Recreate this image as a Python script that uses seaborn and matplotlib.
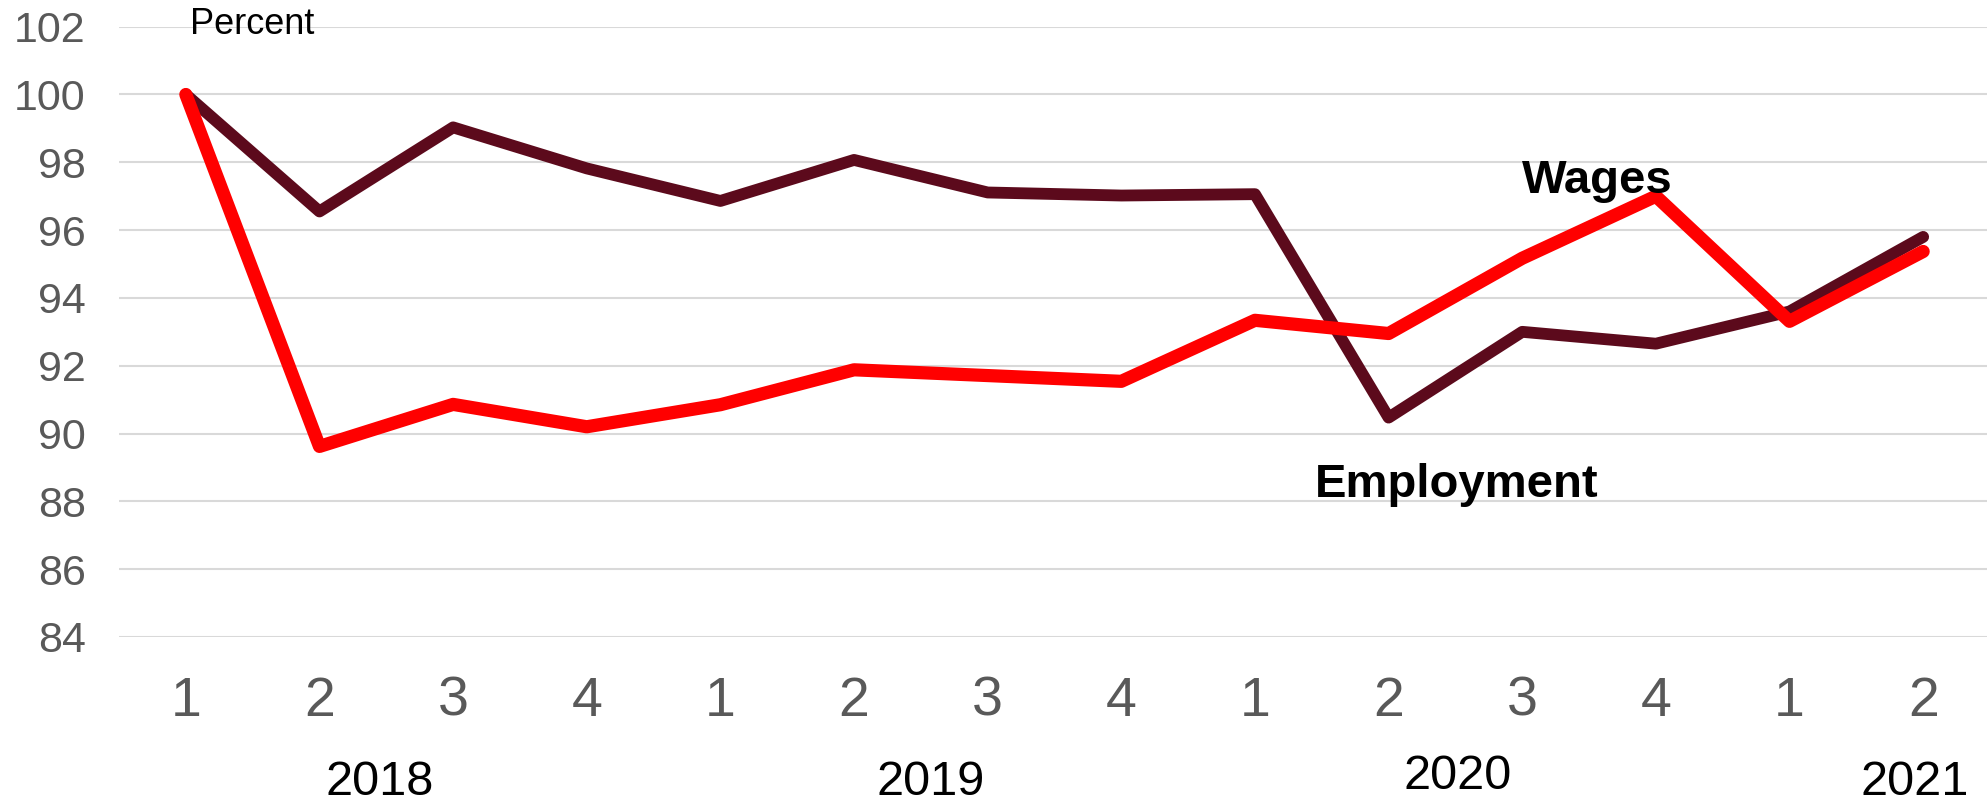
import numpy as np
import pandas as pd
import seaborn as sns
import matplotlib.pyplot as plt
from matplotlib.transforms import blended_transform_factory

# data (index, first quarter of 2018 = 100)
quarters = ['1', '2', '3', '4', '1', '2', '3', '4', '1', '2', '3', '4', '1', '2']
years = ['2018', '2019', '2020', '2021']
employment = [100.0, 96.55, 99.03, 97.82, 96.86, 98.07, 97.11, 97.02, 97.06,
              90.47, 93.0, 92.65, 93.6, 95.8]
wages = [100.0, 89.62, 90.86, 90.2, 90.85, 91.88, 91.71, 91.54, 93.34,
         92.95, 95.17, 97.0, 93.31, 95.37]

df = pd.DataFrame({
    'pos': np.arange(len(quarters)),
    'Employment': employment,
    'Wages': wages,
})

sns.set_style('white')
plt.rcParams['font.family'] = ['Liberation Sans', 'DejaVu Sans']

fig = plt.figure(figsize=(19.87, 8.06), dpi=100)
ax = fig.add_axes([0.0599, 0.2097, 0.9416, 0.7572])

sns.lineplot(data=df, x='pos', y='Employment', color='#5C0A1C', linewidth=8.5,
             sort=False, ax=ax, solid_capstyle='round', solid_joinstyle='round')
sns.lineplot(data=df, x='pos', y='Wages', color='#FF0000', linewidth=9.5,
             sort=False, ax=ax, solid_capstyle='round', solid_joinstyle='round')

ax.set_xlim(-0.5, 13.5)
ax.set_ylim(84, 102)
ax.set_yticks(range(84, 103, 2))
ax.set_xticks(df['pos'])
ax.set_xticklabels(quarters)
ax.grid(axis='y', color='#D9D9D9', linewidth=1.5)
ax.set_axisbelow(True)
for s in ax.spines.values():
    s.set_visible(False)
ax.tick_params(axis='y', length=0, pad=24, labelsize=31, labelcolor='#595959')
ax.tick_params(axis='x', length=0, pad=28, labelsize=40, labelcolor='#595959')
ax.set_xlabel('')
ax.set_ylabel('')

# year labels under the quarter numbers
year_x = [1.45, 5.57, 9.52, 12.94]
year_y = [0.014, 0.014, 0.021, 0.014]
trans = blended_transform_factory(ax.transData, fig.transFigure)
for yr, xp, yp in zip(years, year_x, year_y):
    ax.text(xp, yp, yr, transform=trans, ha='center', va='baseline',
            fontsize=35, color='black')

ax.text(0.03, 101.78, 'Percent', fontsize=26, color='black', ha='left', va='baseline')
ax.text(9.51, 88.14, 'Employment', fontsize=34, fontweight='bold', color='black',
        ha='center', va='baseline')
ax.text(10.56, 97.1, 'Wages', fontsize=34, fontweight='bold', color='black',
        ha='center', va='baseline')

fig.savefig('out.png', dpi=100)
